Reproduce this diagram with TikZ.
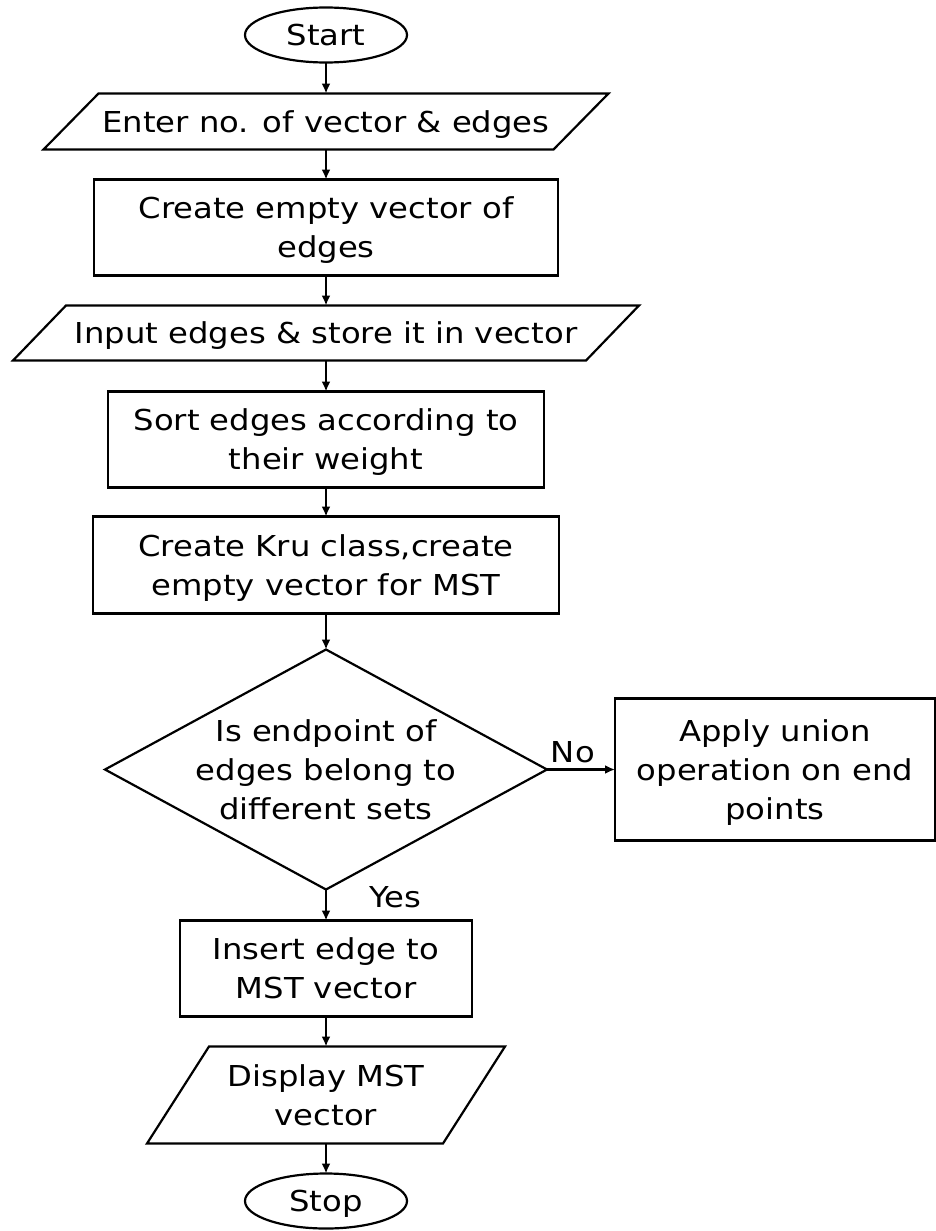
\documentclass[tikz,border=0pt]{standalone}
\usepackage{fontspec}
\setmainfont[FakeStretch=1.12]{DejaVu Sans}
\usetikzlibrary{arrows.meta,positioning,shapes}

\begin{document}
\begin{tikzpicture}[
    x=1pt, y=1pt,
    node distance=30pt,
    every node/.style={font=\fontsize{28.8}{39}\selectfont},
    oneline/.style={text height=21pt, text depth=0pt},
    twoline/.style={text height=60pt, text depth=0pt},
    threeline/.style={text height=99pt, text depth=0pt},
    outline/.style={draw, line width=2.2pt, line join=miter},
    terminal/.style={ellipse, outline, outer sep=0pt, minimum width=162pt, minimum height=55pt, inner sep=0pt, oneline},
    process/.style={rectangle, outline, outer sep=0pt, minimum height=96pt, align=center, inner sep=0pt},
    io/.style={rectangle, outer sep=0pt, align=center, inner sep=0pt},
    decision/.style={diamond, outline, outer sep=0pt, aspect=1.84, align=center, inner sep=-6pt, minimum width=442pt, minimum height=240pt, threeline},
    tag/.style={inner sep=2pt},
    arrow/.style={-{Latex[length=10pt,width=9pt]}, line width=2.2pt}
  ]
    \useasboundingbox (0,0) rectangle (936,-1231);

    % Main column
    \node[terminal] (start) at (326,-35) {Start};
    \node[io, oneline, below=31pt of start, minimum width=510pt, minimum height=56pt] (enter) {Enter no. of vector \& edges};
    \node[process, twoline, below=30pt of enter, minimum width=464pt] (create) {Create empty vector of\\edges};
    \node[io, oneline, below=30pt of create, minimum width=573pt, minimum height=55pt] (input) {Input edges \& store it in vector};
    \node[process, twoline, below=31pt of input, minimum width=436pt] (sort) {Sort edges according to\\their weight};
    \node[process, twoline, below=29pt of sort, minimum width=466pt, minimum height=97pt] (kru) {Create Kru class,create\\empty vector for MST};
    \node[decision, below=36pt of kru] (test) {Is endpoint of\\edges belong to\\different sets};
    \node[process, twoline, below=31pt of test, minimum width=292pt] (insert) {Insert edge to\\MST vector};
    \node[io, twoline, below=30pt of insert, minimum width=296pt, minimum height=97pt] (display) {Display MST\\vector};
    \node[terminal, below=30pt of display] (stop) {Stop};

    % Side branch
    \node[process, threeline, right=68pt of test, minimum width=320pt, minimum height=142pt] (union) {Apply union\\operation on end\\points};

    % Input/output outlines
    \foreach \n/\s in {enter/27.5pt, input/26.5pt, display/31pt}
        \draw[outline] ([xshift=\s]\n.north west) -- ([xshift=\s]\n.north east)
            -- ([xshift=-\s]\n.south east) -- ([xshift=-\s]\n.south west) -- cycle;

    % Flow
    \draw[arrow] (start) -- (enter);
    \draw[arrow] (enter) -- (create);
    \draw[arrow] (create) -- (input);
    \draw[arrow] (input) -- (sort);
    \draw[arrow] (sort) -- (kru);
    \draw[arrow] (kru) -- (test);
    \draw[arrow] (test) -- node[tag, pos=0.38, above=4pt] (no) {No} (union);
    \draw[arrow] (test) -- node[tag, pos=0.25, right=40pt] (yes) {Yes} (insert);
    \draw[arrow] (insert) -- (display);
    \draw[arrow] (display) -- (stop);
\end{tikzpicture}
\end{document}
